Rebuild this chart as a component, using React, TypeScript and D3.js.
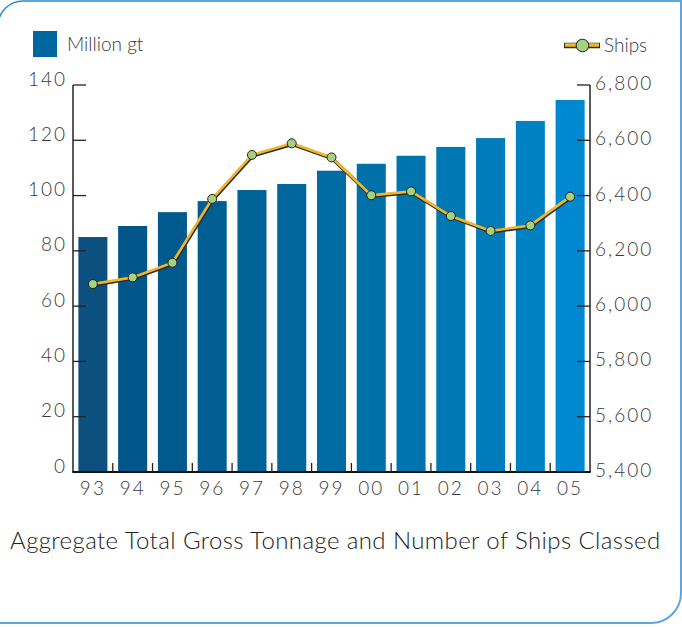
import React, { useEffect, useRef } from "react";
import * as d3 from "d3";

const years = ["93", "94", "95", "96", "97", "98", "99", "00", "01", "02", "03", "04", "05"];
const tonnage = [85, 89, 94, 98, 102, 104.2, 109, 111.5, 114.4, 117.6, 120.8, 127, 134.6];
const ships = [6080, 6104, 6157, 6388, 6547, 6589, 6538, 6401, 6415, 6326, 6272, 6292, 6396];
const barColors = [
  "#0c5080", "#00568a", "#005a8e", "#005e93", "#006398", "#00679d", "#006ca3",
  "#0070a9", "#0074ae", "#0078b4", "#007cba", "#0081c2", "#0088d0",
];
const leftTicks = [0, 20, 40, 60, 80, 100, 120, 140];
const rightTicks = [5400, 5600, 5800, 6000, 6200, 6400, 6600, 6800];
const title = "Aggregate Total Gross Tonnage and Number of Ships Classed";

const W = 682;
const H = 627;
const FONT = "Lato, 'Open Sans', sans-serif";
const TEXT = "#3a3a3a";

const App: React.FC = () => {
  const svgRef = useRef<SVGSVGElement | null>(null);

  useEffect(() => {
    if (!svgRef.current) return;
    const svg = d3.select(svgRef.current);
    svg.selectAll("*").remove();

    const left = 73;
    const right = 590;
    const top = 85;
    const bottom = 472;

    const x = d3
      .scaleBand<string>()
      .domain(years)
      .range([left, right])
      .paddingInner(0.27)
      .paddingOuter(0.135);
    const yL = d3.scaleLinear().domain([0, 140]).range([bottom, top]);
    const yR = d3.scaleLinear().domain([5400, 6800]).range([bottom, top]);

    // cadre
    svg
      .append("path")
      .attr("d", `M -2 ${H + 10} L -2 26 A 25 25 0 0 1 23 1 L ${W + 10} 1`)
      .attr("fill", "none")
      .attr("stroke", "#2a8ad0")
      .attr("stroke-width", 1.5);
    svg
      .append("path")
      .attr("d", `M -10 623 L 651 623 A 30 30 0 0 0 681 593 L 681 -10`)
      .attr("fill", "none")
      .attr("stroke", "#5fa6de")
      .attr("stroke-width", 2);

    // barres
    svg
      .append("g")
      .selectAll("rect")
      .data(tonnage)
      .enter()
      .append("rect")
      .attr("x", (_d, i) => x(years[i])!)
      .attr("y", (d) => yL(d))
      .attr("width", x.bandwidth())
      .attr("height", (d) => bottom - yL(d))
      .attr("fill", (_d, i) => barColors[i]);

    const label = (sel: d3.Selection<SVGTextElement, any, any, any>, size = 19, ls = 2) =>
      sel
        .style("font-family", FONT)
        .style("font-size", `${size}px`)
        .style("font-weight", 300)
        .style("letter-spacing", `${ls}px`)
        .style("fill", TEXT);

    // axe gauche
    svg
      .append("line")
      .attr("x1", left).attr("x2", left)
      .attr("y1", top).attr("y2", bottom)
      .attr("stroke", "#222").attr("stroke-width", 1.5);
    svg
      .append("g")
      .selectAll("line")
      .data(leftTicks)
      .enter()
      .append("line")
      .attr("x1", left).attr("x2", left + 13)
      .attr("y1", (d) => yL(d)).attr("y2", (d) => yL(d))
      .attr("stroke", "#222").attr("stroke-width", 1.3);
    svg
      .append("g")
      .selectAll("text")
      .data(leftTicks)
      .enter()
      .append("text")
      .attr("x", 67)
      .attr("y", (d) => yL(d) + 0.5)
      .attr("text-anchor", "end")
      .call(label)
      .text((d) => d);

    // axe droit
    svg
      .append("line")
      .attr("x1", right).attr("x2", right)
      .attr("y1", top).attr("y2", bottom)
      .attr("stroke", "#222").attr("stroke-width", 1.5);
    svg
      .append("g")
      .selectAll("line")
      .data(rightTicks)
      .enter()
      .append("line")
      .attr("x1", right - 13).attr("x2", right)
      .attr("y1", (d) => yR(d)).attr("y2", (d) => yR(d))
      .attr("stroke", "#222").attr("stroke-width", 1.3);
    svg
      .append("g")
      .selectAll("text")
      .data(rightTicks)
      .enter()
      .append("text")
      .attr("x", 595)
      .attr("y", (d) => yR(d) + 5)
      .call(label)
      .text((d) => d3.format(",")(d));

    // axe bas
    svg
      .append("line")
      .attr("x1", left - 0.75).attr("x2", right + 0.75)
      .attr("y1", bottom).attr("y2", bottom)
      .attr("stroke", "#111").attr("stroke-width", 2);
    const step = x.step();
    svg
      .append("g")
      .selectAll("line")
      .data(years.slice(1))
      .enter()
      .append("line")
      .attr("x1", (d) => x(d)! - (step - x.bandwidth()) / 2)
      .attr("x2", (d) => x(d)! - (step - x.bandwidth()) / 2)
      .attr("y1", bottom - 9).attr("y2", bottom)
      .attr("stroke", "#222").attr("stroke-width", 1.3);
    svg
      .append("g")
      .selectAll("text")
      .data(years)
      .enter()
      .append("text")
      .attr("x", (d) => x(d)! + x.bandwidth() / 2)
      .attr("y", 495)
      .attr("text-anchor", "middle")
      .call(label)
      .text((d) => d);

    // ligne des navires
    const line = d3
      .line<number>()
      .x((_d, i) => x(years[i])! + x.bandwidth() / 2)
      .y((d) => yR(d));
    svg
      .append("path")
      .datum(ships)
      .attr("d", line)
      .attr("transform", "translate(0.6,1)")
      .attr("fill", "none")
      .attr("stroke", "#2a2a2a")
      .attr("stroke-width", 3.5);
    svg
      .append("path")
      .datum(ships)
      .attr("d", line)
      .attr("fill", "none")
      .attr("stroke", "#f2b824")
      .attr("stroke-width", 2.6);
    svg
      .append("g")
      .selectAll("circle")
      .data(ships)
      .enter()
      .append("circle")
      .attr("cx", (_d, i) => x(years[i])! + x.bandwidth() / 2)
      .attr("cy", (d) => yR(d))
      .attr("r", 4.5)
      .attr("fill", "#a6d17f")
      .attr("stroke", "#222")
      .attr("stroke-width", 1);

    // légende
    svg
      .append("rect")
      .attr("x", 33).attr("y", 31)
      .attr("width", 24).attr("height", 26)
      .attr("fill", "#0066a0");
    svg
      .append("text")
      .attr("x", 67).attr("y", 51)
      .call(label, 19, 0)
      .text("Million gt");
    svg
      .append("line")
      .attr("x1", 564).attr("x2", 600)
      .attr("y1", 45.5).attr("y2", 45.5)
      .attr("stroke", "#2a2a2a").attr("stroke-width", 5.5);
    svg
      .append("line")
      .attr("x1", 565).attr("x2", 599)
      .attr("y1", 45).attr("y2", 45)
      .attr("stroke", "#f2b824").attr("stroke-width", 3.5);
    svg
      .append("circle")
      .attr("cx", 582.5).attr("cy", 45.5).attr("r", 6.3)
      .attr("fill", "#a6d17f").attr("stroke", "#222").attr("stroke-width", 1);
    svg
      .append("text")
      .attr("x", 604).attr("y", 52)
      .call(label, 19, 0)
      .text("Ships");

    // titre
    svg
      .append("text")
      .attr("x", 10).attr("y", 549)
      .call(label, 24, 0.4)
      .style("fill", "#222")
      .text(title);
  }, []);

  return (
    <svg
      ref={svgRef}
      width={W}
      height={H}
      style={{ position: "absolute", left: 0, top: 0, background: "#fff" }}
    />
  );
};

export default App;
